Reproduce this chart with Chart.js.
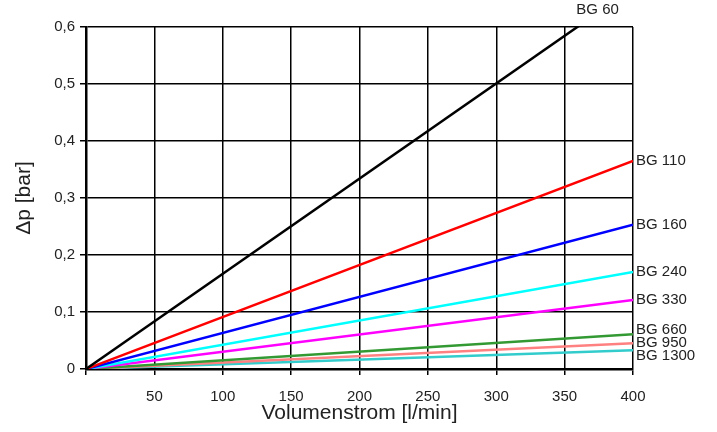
<!DOCTYPE html>
<html>
<head>
<meta charset="utf-8">
<script src="https://cdn.jsdelivr.net/npm/chart.js@4"></script>
<style>
  html, body { margin: 0; padding: 0; background: #fff; }
  #wrap { width: 717px; height: 432px; }
</style>
</head>
<body>
<div id="wrap"><canvas id="myChart" width="717" height="432"></canvas></div>
<script>
// flow rate [l/min] at start and end of each line
const flow = [0, 400];
const names = ['BG 60', 'BG 110', 'BG 160', 'BG 240', 'BG 330', 'BG 660', 'BG 950', 'BG 1300'];
// pressure drop [bar] at flow[0] and flow[1]
const bg60 = [0, 0.668];
const bg110 = [0, 0.365];
const bg160 = [0, 0.253];
const bg240 = [0, 0.170];
const bg330 = [0, 0.121];
const bg660 = [0, 0.061];
const bg950 = [0, 0.045];
const bg1300 = [0, 0.033];
const yTicks = [0, 0.1, 0.2, 0.3, 0.4, 0.5, 0.6];

const series = [bg60, bg110, bg160, bg240, bg330, bg660, bg950, bg1300];
const colors = ['#000000', '#ff0000', '#0000ff', '#00ffff', '#ff00ff', '#339933', '#ff8080', '#33cccc'];

const FONT = '"Liberation Sans", Arial, sans-serif';

// line end labels, drawn beside the right axis
const endLabels = {
    id: 'endLabels',
    afterDatasetsDraw(chart) {
        const ctx = chart.ctx;
        const area = chart.chartArea;
        const xs = chart.scales.x;
        const ys = chart.scales.y;
        ctx.save();
        ctx.font = '15px ' + FONT;
        ctx.fillStyle = '#222';
        ctx.textBaseline = 'middle';
        const side = [];
        chart.data.datasets.forEach((ds, i) => {
            const last = ds.data[ds.data.length - 1];
            if (last.y > ys.max) {
                // line leaves through the top: label above crossing point
                const xCross = last.x * ys.max / last.y;
                ctx.textAlign = 'left';
                ctx.fillText(ds.label, xs.getPixelForValue(xCross) - 1, area.top - 17);
            } else {
                side.push({ label: ds.label, y: ys.getPixelForValue(last.y) });
            }
        });
        // spread crowded labels apart
        side.sort((a, b) => a.y - b.y);
        const gap = 13;
        const groups = [];
        side.forEach(s => {
            const g = groups[groups.length - 1];
            if (g && s.y - (g.center + (g.items.length - 1) * gap / 2) < gap) {
                g.items.push(s);
                g.center = g.items.reduce((t, it) => t + it.y, 0) / g.items.length;
            } else {
                groups.push({ items: [s], center: s.y });
            }
        });
        ctx.textAlign = 'left';
        groups.forEach(g => {
            const n = g.items.length;
            g.items.forEach((s, k) => {
                const y = g.center + (k - (n - 1) / 2) * gap;
                ctx.fillText(s.label, area.right + 3, y);
            });
        });
        ctx.restore();
    }
};

const ctx = document.getElementById('myChart').getContext('2d');
const myChart = new Chart(ctx, {
    type: 'line',
    data: {
        datasets: series.map((vals, i) => ({
            label: names[i],
            data: vals.map((v, j) => ({ x: flow[j], y: v })),
            borderColor: colors[i],
            backgroundColor: colors[i],
            borderWidth: 2.5,
            pointRadius: 0,
            fill: false
        }))
    },
    options: {
        responsive: false,
        animation: false,
        layout: { padding: { top: 27, right: 84, left: 0, bottom: 0 } },
        plugins: {
            legend: { display: false },
            tooltip: { enabled: false }
        },
        scales: {
            x: {
                type: 'linear',
                min: 0,
                max: 400,
                afterFit(scale) { scale.height = 63; },
                ticks: {
                    stepSize: 50,
                    padding: 13,
                    color: '#222',
                    font: { family: FONT, size: 15 },
                    callback: v => (v === 0 ? '' : String(v))
                },
                grid: { color: '#000', lineWidth: 1.5, tickLength: 6 },
                border: { color: '#000', width: 2.5 },
                title: {
                    display: true,
                    text: 'Volumenstrom [l/min]',
                    color: '#222',
                    font: { family: FONT, size: 21 },
                    padding: { top: 0, bottom: 6 }
                }
            },
            y: {
                min: 0,
                max: 0.6,
                afterFit(scale) { scale.width = 86; },
                afterBuildTicks(scale) { scale.ticks = yTicks.map(v => ({ value: v })); },
                ticks: {
                    padding: 5,
                    color: '#222',
                    font: { family: FONT, size: 15 },
                    callback: v => (v === 0 ? '0' : v.toFixed(1).replace('.', ','))
                },
                grid: { color: '#000', lineWidth: 1.5, tickLength: 6 },
                border: { color: '#000', width: 2.5 },
                title: {
                    display: true,
                    text: 'Δp [bar]',
                    color: '#222',
                    font: { family: FONT, size: 21 },
                    padding: { top: 12, bottom: 0 }
                }
            }
        }
    },
    plugins: [endLabels]
});
</script>
</body>
</html>
